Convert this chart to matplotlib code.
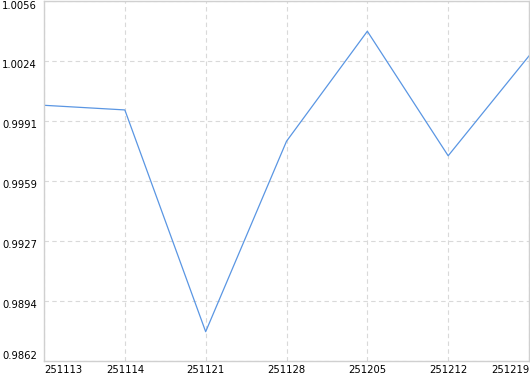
import matplotlib.pyplot as plt
import matplotlib.transforms as mtransforms

# data
dates = ['251113', '251114', '251121', '251128', '251205', '251212', '251219']
values = [0.99998, 0.99973, 0.98778, 0.99804, 1.00397, 0.99726, 1.00264]

y_min = 0.9862
y_max = 1.0056
n_div = 6

fig = plt.figure(figsize=(5.3, 3.74), dpi=100)
ax = fig.add_axes([44 / 530, 13 / 374, 485 / 530, 360 / 374])

x = list(range(len(dates)))
ax.plot(x, values, color='#5a96e3', linewidth=0.9)

ax.set_xlim(0, len(dates) - 1)
ax.set_ylim(y_min, y_max)

yticks = [y_min + i * (y_max - y_min) / n_div for i in range(n_div + 1)]
ax.set_yticks(yticks)
ax.set_yticklabels(['%.4f' % v for v in yticks], fontsize=7.2)
ax.set_xticks(x)
ax.set_xticklabels(dates, fontsize=7.2)

ax.tick_params(axis='both', length=0, colors='black')
ax.tick_params(axis='y', pad=5)
ax.tick_params(axis='x', pad=3)

# keep end labels inside the plot range, like the original
ylabels = ax.get_yticklabels()
ylabels[0].set_va('bottom')
ylabels[-1].set_va('top')
shift = mtransforms.ScaledTranslation(0, -3 / 100, fig.dpi_scale_trans)
for lab in ylabels[1:-1]:
    lab.set_transform(lab.get_transform() + shift)
xlabels = ax.get_xticklabels()
xlabels[0].set_ha('left')
xlabels[-1].set_ha('right')

ax.grid(True, color='#d9d9d9', linestyle=(0, (4, 3)), linewidth=0.8)
for s in ax.spines.values():
    s.set_color('#d0d0d0')
    s.set_linewidth(1)

fig.savefig('out.png', dpi=100, facecolor='white')
